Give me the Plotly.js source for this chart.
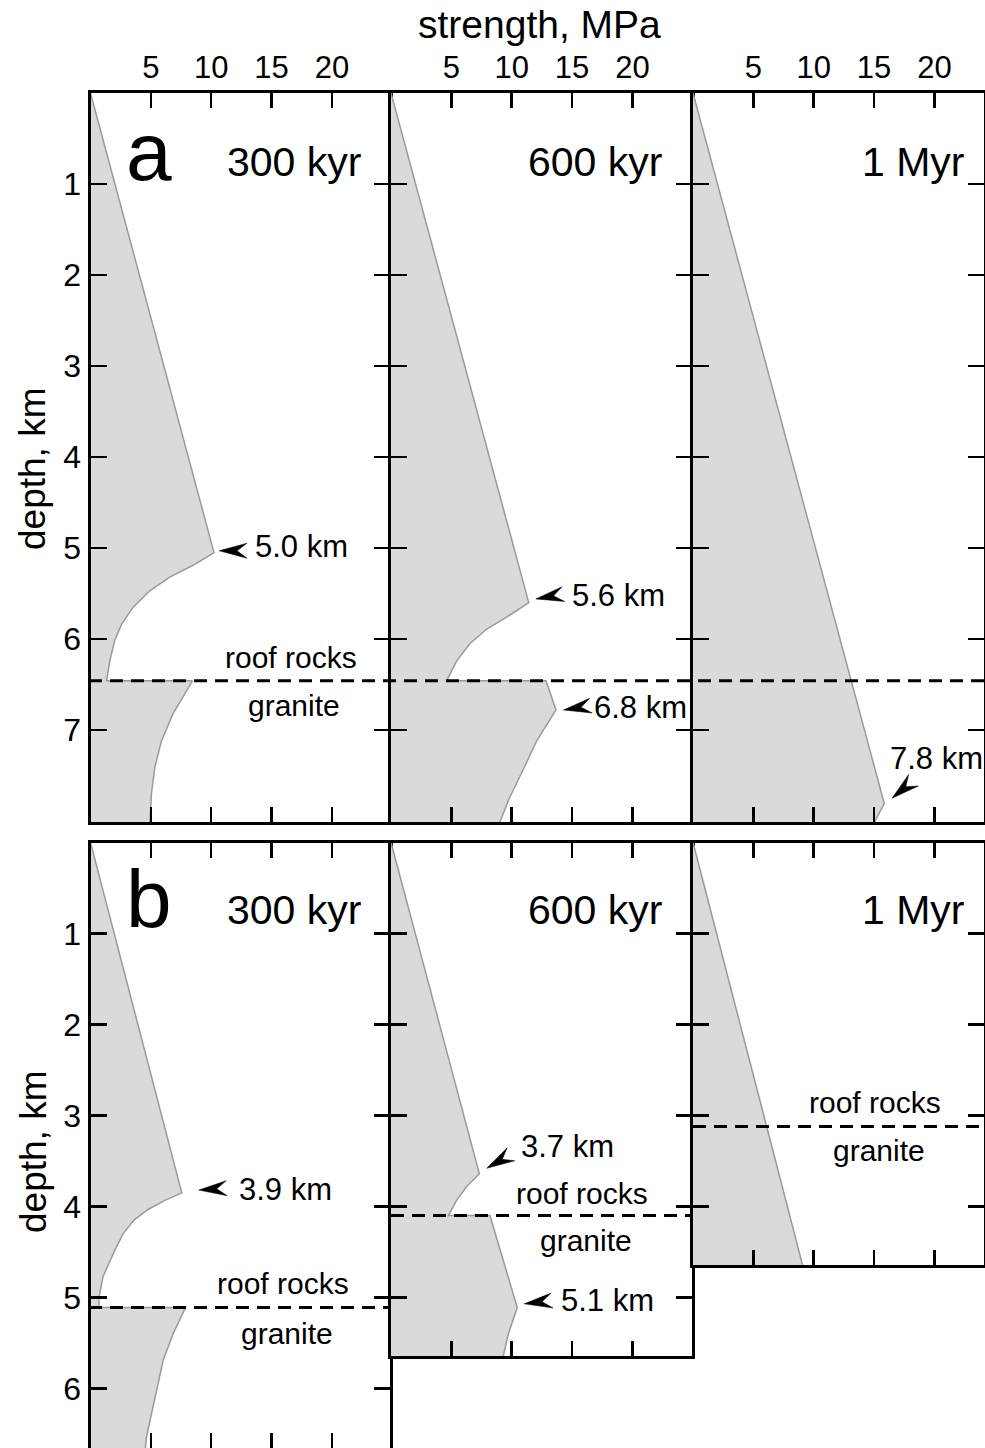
<!DOCTYPE html>
<html><head><meta charset="utf-8">
<script src="https://cdn.plot.ly/plotly-3.0.1.min.js"></script>
<style>html,body{margin:0;padding:0;background:#fff}#chart{width:985px;height:1448px}</style>
</head><body><div id="chart"></div><script>
// ---------------- data ----------------
const strengthTicks = [5, 10, 15, 20];
const depthTicksA = [1, 2, 3, 4, 5, 6, 7];
const depthTicksB300 = [1, 2, 3, 4, 5, 6];
const depthTicksB600 = [1, 2, 3, 4, 5];
const depthTicksB1M = [1, 2, 3, 4];
const panelLabels = ['300 kyr', '600 kyr', '1 Myr'];
const rowLetters = ['a', 'b'];

// row a
const a300Depth    = [0, 5.05, 5.19, 5.32, 5.47, 5.65, 5.84, 6.02, 6.24, 6.46, 6.46, 6.82, 7.12, 7.41, 7.70, 8.02];
const a300Strength = [0, 10.23, 8.5, 6.57, 4.91, 3.53, 2.57, 2.0, 1.6, 1.33, 8.45, 6.84, 5.88, 5.33, 5.05, 4.91];
const a600Depth    = [0, 5.60, 5.76, 5.89, 6.05, 6.24, 6.46, 6.46, 6.78, 7.12, 7.45, 7.75, 8.02];
const a600Strength = [0, 11.41, 9.58, 7.93, 6.55, 5.44, 4.61, 12.84, 13.67, 12.07, 10.9, 9.8, 9.0];
const a1MDepth     = [0, 7.81, 8.02];
const a1MStrength  = [0, 15.85, 15.0];
// row b
const b300Depth    = [0, 3.85, 3.93, 4.03, 4.15, 4.30, 4.48, 4.77, 4.99, 5.11, 5.11, 5.40, 5.69, 6.02, 6.53, 6.66];
const b300Strength = [0, 7.56, 6.2, 4.8, 3.6, 2.7, 2.02, 1.04, 0.71, 0.70, 7.87, 6.84, 6.02, 5.47, 4.64, 4.55];
const b600Depth    = [0, 3.64, 3.78, 3.93, 4.10, 4.10, 5.11, 5.40, 5.645];
const b600Strength = [0, 7.32, 6.27, 5.44, 4.75, 8.2, 10.46, 9.72, 9.3];
const b1MDepth     = [0, 4.645];
const b1MStrength  = [0, 9.08];

// roof-rock / granite contact depths, km
const contactA = 6.46;
const contactB = [5.11, 4.10, 3.12];
// marked depths (labels) and the profile points they point to (strength MPa, depth km)
const markLabels   = ['5.0 km', '5.6 km', '6.8 km', '7.8 km', '3.9 km', '3.7 km', '5.1 km'];
const markStrength = [10.65, 12.0, 14.28, 16.49, 8.97, 7.93, 11.04];
const markDepth    = [5.03, 5.56, 6.78, 7.75, 3.82, 3.58, 5.07];

// ---------------- layout ----------------
const W = 985, H = 1448;
const F = 'Liberation Sans, Arial, Helvetica, sans-serif';
const PX_MPA = 12.07, PX_KM = 91;
const cols = [[90.5, 390], [391, 691.5], [693, 983.5]];
const rows = [{top: 93, bottoms: [822, 822, 822]}, {top: 842.5, bottoms: [1448, 1356, 1265]}];
const depthTicks = [[depthTicksA, depthTicksA, depthTicksA], [depthTicksB300, depthTicksB600, depthTicksB1M]];
const series = [
  [[a300Strength, a300Depth], [a600Strength, a600Depth], [a1MStrength, a1MDepth]],
  [[b300Strength, b300Depth], [b600Strength, b600Depth], [b1MStrength, b1MDepth]]
];
const px = v => v / W;
const py = v => 1 - v / H;
const sfx = i => (i === 1 ? '' : String(i));

const layout = {
  width: W, height: H,
  margin: {l: 0, r: 0, t: 0, b: 0},
  paper_bgcolor: '#fff', plot_bgcolor: 'rgba(0,0,0,0)',
  showlegend: false,
  font: {family: F, color: '#000'},
  shapes: [], annotations: []
};
const traces = [];

for (let r = 0; r < 2; r++) {
  for (let c = 0; c < 3; c++) {
    const i = r * 3 + c + 1;
    const top = rows[r].top, bot = rows[r].bottoms[c];
    layout['xaxis' + sfx(i)] = {
      domain: [px(cols[c][0]), px(cols[c][1])],
      range: [0, (cols[c][1] - cols[c][0]) / PX_MPA],
      anchor: 'y' + sfx(i), side: 'top',
      tickmode: 'array', tickvals: strengthTicks,
      ticks: 'inside', ticklen: 15, tickwidth: 2.5, tickcolor: '#000',
      showline: true, linewidth: 3, linecolor: '#000', mirror: 'ticks',
      showgrid: false, zeroline: false, showticklabels: r === 0,
      tickfont: {family: F, size: 31, color: '#000'}, fixedrange: true
    };
    layout['yaxis' + sfx(i)] = {
      domain: [Math.max(0, py(bot)), py(top)],
      range: [(bot - top) / PX_KM, 0],
      anchor: 'x' + sfx(i), side: 'left',
      tickmode: 'array', tickvals: depthTicks[r][c],
      ticks: 'inside', ticklen: 16, tickwidth: 2.5, tickcolor: '#000',
      showline: true, linewidth: 3, linecolor: '#000', mirror: 'ticks',
      showgrid: false, zeroline: false, showticklabels: c === 0,
      tickfont: {family: F, size: 32, color: '#000'}, fixedrange: true
    };
    traces.push({
      type: 'scatter', mode: 'lines',
      x: series[r][c][0], y: series[r][c][1],
      xaxis: 'x' + sfx(i), yaxis: 'y' + sfx(i),
      fill: 'tozerox', fillcolor: '#dadada',
      line: {color: '#9a9a9a', width: 1.5},
      hoverinfo: 'skip'
    });
    // panel time label
    layout.annotations.push({
      xref: 'paper', yref: 'paper', x: px([363, 664, 967][c]), y: py(r === 0 ? 162 : 910),
      xanchor: 'right', yanchor: 'middle', showarrow: false,
      text: panelLabels[c], font: {family: F, size: 41, color: '#000'}
    });
  }
  // row letter
  layout.annotations.push({
    xref: 'paper', yref: 'paper', x: px(149), y: py(r === 0 ? 151 : 898),
    xanchor: 'center', yanchor: 'middle', showarrow: false,
    text: rowLetters[r], font: {family: F, size: 82, color: '#000'}
  });
  // y title
  layout.annotations.push({
    xref: 'paper', yref: 'paper', x: px(33), y: py(r === 0 ? 469 : 1152),
    xanchor: 'center', yanchor: 'middle', showarrow: false, textangle: -90,
    text: 'depth, km', font: {family: F, size: 37, color: '#000'}
  });
}
// x title
layout.annotations.push({
  xref: 'paper', yref: 'paper', x: px(539), y: py(1),
  xanchor: 'center', yanchor: 'top', showarrow: false,
  text: 'strength, MPa', font: {family: F, size: 39, color: '#000'}
});

// contact dashed lines
const dashLine = {color: '#000', width: 3, dash: '13px,8px'};
layout.shapes.push({type: 'line', xref: 'paper', yref: 'y', x0: px(89), x1: px(984), y0: contactA, y1: contactA, line: dashLine});
const bSpans = [[89, 389], [391, 690], [693, 984]];
contactB.forEach((d, c) => {
  const i = 4 + c;
  layout.shapes.push({type: 'line', xref: 'paper', yref: 'y' + i, x0: px(bSpans[c][0]), x1: px(bSpans[c][1]), y0: d, y1: d, line: dashLine});
});

// roof rocks / granite labels
const rgPos = [
  {rx: 291, ry: 657, gx: 294, gy: 705},
  {rx: 283, ry: 1283, gx: 287, gy: 1333},
  {rx: 582, ry: 1193, gx: 586, gy: 1240},
  {rx: 875, ry: 1102, gx: 879, gy: 1150}
];
rgPos.forEach(p => {
  layout.annotations.push({xref: 'paper', yref: 'paper', x: px(p.rx), y: py(p.ry), xanchor: 'center', yanchor: 'middle', showarrow: false, text: 'roof rocks', font: {family: F, size: 30, color: '#000'}});
  layout.annotations.push({xref: 'paper', yref: 'paper', x: px(p.gx), y: py(p.gy), xanchor: 'center', yanchor: 'middle', showarrow: false, text: 'granite', font: {family: F, size: 30, color: '#000'}});
});

// arrows + marked depth labels
const markAxes = [1, 2, 2, 3, 4, 5, 5];
const markAngle = [0, 10, 9, 40, 4, 30, 7];
const markText = [[253, 547], [570, 595], [592, 707], [888, 758], [237, 1189], [519, 1146], [559, 1300]];
function dartPath(deg) {
  const t = deg * Math.PI / 180, cs = Math.cos(t), sn = Math.sin(t);
  const pts = [[0, 0], [28, 7.5], [18, 0], [28, -7.5]];
  return 'M' + pts.map(p => (p[0] * cs - p[1] * sn).toFixed(2) + ',' + (p[0] * sn + p[1] * cs).toFixed(2)).join('L') + 'Z';
}
markLabels.forEach((lab, k) => {
  const a = markAxes[k];
  layout.shapes.push({
    type: 'path', xref: 'x' + sfx(a), yref: 'y' + sfx(a),
    xsizemode: 'pixel', ysizemode: 'pixel',
    xanchor: markStrength[k], yanchor: markDepth[k],
    path: dartPath(markAngle[k]),
    fillcolor: '#000', line: {color: '#000', width: 0.5}
  });
  layout.annotations.push({
    xref: 'paper', yref: 'paper', x: px(markText[k][0]), y: py(markText[k][1]),
    xanchor: 'left', yanchor: 'middle', showarrow: false,
    text: lab, font: {family: F, size: 31, color: '#000'}
  });
});

Plotly.newPlot('chart', traces, layout, {staticPlot: true, displayModeBar: false});
</script></body></html>
